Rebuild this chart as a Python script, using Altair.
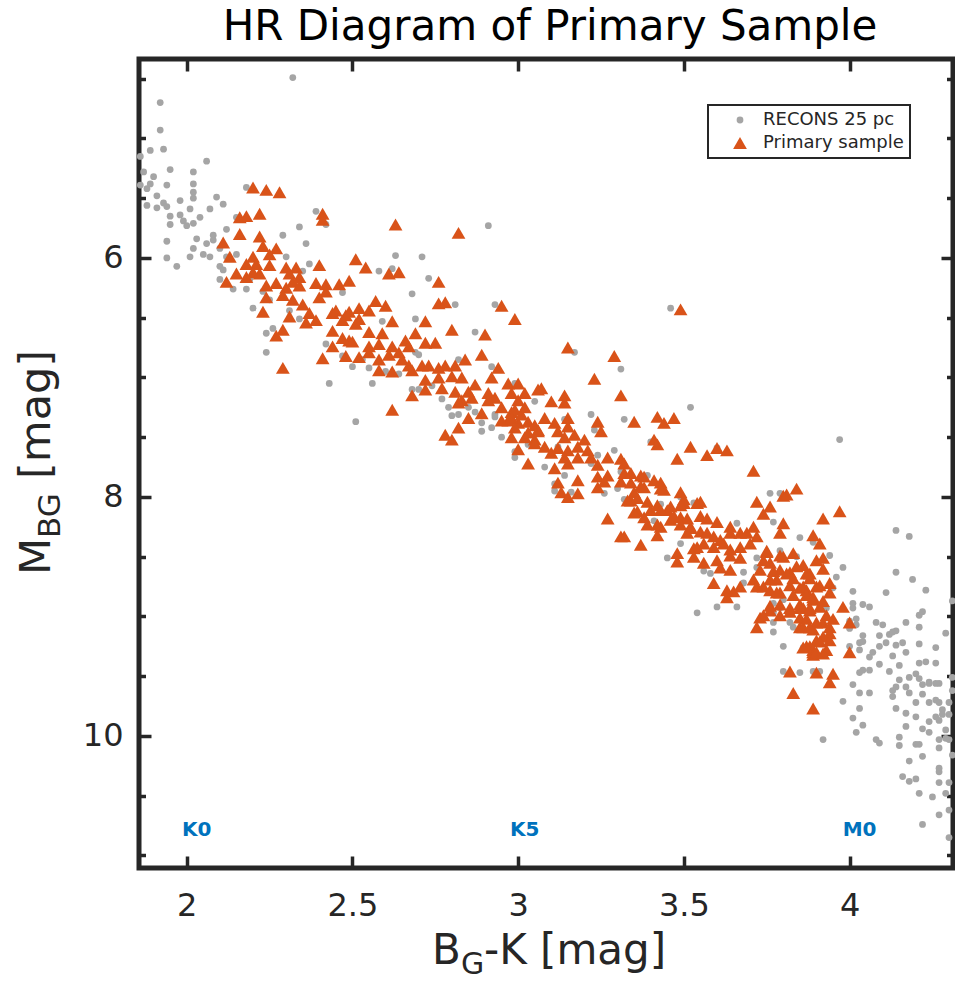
import altair as alt
import pandas as pd

# ---------------- data ----------------
series_names = ["RECONS 25 pc", "Primary sample"]
series_colors = ["#A5A5A5", "#D95319"]
series_shapes = ["circle", "triangle-up"]

recons_points = [
    (2.32, 4.49), (1.92, 4.70), (1.92, 4.93), (1.86, 5.15), (1.89, 5.10), (1.93, 5.09), (2.06, 5.19),
    (1.87, 5.28), (1.90, 5.32), (1.95, 5.26), (2.02, 5.28), (1.89, 5.38), (1.88, 5.42), (1.94, 5.39),
    (2.02, 5.38), (1.86, 5.39), (2.02, 5.45), (2.02, 5.50), (1.91, 5.48), (1.98, 5.52), (1.88, 5.56),
    (1.93, 5.54), (1.91, 5.58), (1.94, 5.57), (2.01, 5.59), (2.07, 5.59), (2.09, 5.49), (2.11, 5.55),
    (1.95, 5.65), (1.98, 5.64), (1.99, 5.69), (2.00, 5.73), (2.02, 5.71), (2.04, 5.66), (1.95, 5.72),
    (2.12, 5.76), (1.94, 5.86), (2.03, 5.84), (2.02, 5.92), (2.06, 5.88), (2.08, 5.81), (2.08, 5.85),
    (2.10, 5.92), (1.94, 6.00), (2.01, 5.99), (2.05, 5.97), (2.07, 5.99), (1.97, 6.07), (2.12, 5.99),
    (2.15, 5.97), (2.10, 6.07), (2.11, 6.10), (2.10, 6.18), (2.14, 6.26), (2.15, 5.66), (2.18, 5.41),
    (2.34, 5.74), (2.36, 5.88), (2.29, 5.81), (2.39, 5.61), (2.42, 5.72), (2.37, 6.05), (2.35, 6.11),
    (2.47, 6.29), (2.30, 5.99), (2.20, 6.42), (2.24, 6.63), (2.26, 6.59), (2.24, 6.79), (2.42, 6.72),
    (2.43, 7.05), (2.50, 6.91), (2.47, 6.82), (2.19, 6.18), (2.23, 6.28), (2.25, 6.35), (2.31, 6.44),
    (2.34, 6.51), (2.18, 6.26),
    (2.63, 5.98), (2.71, 5.99), (2.91, 5.73), (2.58, 6.11), (2.62, 6.09), (2.73, 6.17), (2.68, 6.30),
    (2.81, 6.39), (2.93, 6.39), (2.69, 6.51), (2.59, 6.53), (2.87, 6.62), (2.55, 6.92), (2.53, 6.85),
    (2.60, 6.95), (2.64, 6.97), (2.69, 6.79), (2.70, 6.81), (2.56, 7.05), (2.51, 7.37), (2.68, 7.10),
    (2.70, 7.10), (2.79, 7.25), (2.80, 7.32), (2.82, 7.31), (2.85, 7.25), (2.87, 7.29), (2.89, 7.38),
    (2.89, 7.45), (2.92, 7.42), (2.95, 7.50), (2.93, 7.33), (2.92, 6.91), (3.05, 7.20), (2.99, 7.62),
    (2.82, 6.85), (2.74, 7.07), (2.77, 7.18),
    (3.46, 6.42), (3.17, 6.79), (3.31, 6.93), (3.52, 7.25), (2.99, 7.05), (3.22, 7.31), (3.32, 7.35),
    (3.23, 7.44), (3.40, 7.54), (2.93, 7.31), (3.03, 7.56), (2.99, 7.67), (3.08, 7.75), (3.14, 7.82),
    (3.12, 7.58), (3.14, 7.35), (3.22, 7.72), (3.24, 7.65), (3.29, 7.61), (3.31, 7.79), (3.39, 7.82),
    (3.11, 7.89), (3.11, 7.95), (3.16, 7.96), (3.26, 7.97), (3.30, 7.93), (3.32, 8.02), (3.43, 8.06),
    (3.49, 8.00), (3.53, 8.05), (3.41, 8.20), (3.43, 8.27), (3.49, 8.39), (3.45, 8.51),
    (3.60, 7.59), (3.76, 7.97), (3.79, 7.97), (3.77, 8.21), (3.66, 8.22), (3.85, 8.34), (3.89, 8.38),
    (3.56, 8.62), (3.58, 8.64), (3.68, 8.63), (3.72, 8.51), (3.54, 8.97), (3.60, 8.92), (3.66, 8.92),
    (3.77, 8.97), (3.77, 9.13), (3.80, 8.86), (3.80, 9.25), (3.86, 9.26), (3.77, 8.89), (3.72, 8.59),
    (3.68, 8.72), (3.83, 9.09), (3.79, 8.93), (3.97, 7.52),
    (3.94, 8.49), (3.98, 8.59), (4.14, 8.28), (4.18, 8.33), (4.14, 8.63), (4.19, 8.69), (4.23, 8.78),
    (4.11, 8.80), (4.01, 8.79), (4.31, 8.87), (4.01, 8.89), (4.04, 8.90), (4.06, 8.92), (4.02, 9.02),
    (4.02, 9.07), (4.00, 9.10), (4.08, 9.05), (4.10, 9.07), (4.14, 9.12), (4.17, 9.05), (4.21, 9.09),
    (4.21, 8.99), (4.22, 8.96), (4.29, 9.14), (4.04, 9.16), (4.09, 9.16), (4.12, 9.15), (4.13, 9.13),
    (4.11, 9.22), (4.14, 9.24), (4.16, 9.22), (4.21, 9.23), (4.26, 9.26), (4.00, 9.25), (4.03, 9.22),
    (4.04, 9.21), (4.09, 9.25), (4.13, 9.33), (4.17, 9.30), (4.07, 9.30), (4.06, 9.34), (4.09, 9.40),
    (4.15, 9.41), (4.21, 9.39), (4.23, 9.38), (4.26, 9.39), (4.04, 9.45), (4.03, 9.47), (4.06, 9.45),
    (4.12, 9.46), (4.15, 9.53), (4.18, 9.51), (4.20, 9.48), (4.21, 9.52), (4.24, 9.55), (4.22, 9.57),
    (4.27, 9.56), (4.31, 9.51), (4.14, 9.59), (4.13, 9.62), (4.17, 9.59), (4.01, 9.57), (4.03, 9.64),
    (4.06, 9.64), (4.13, 9.67), (4.18, 9.64), (4.22, 9.65), (4.20, 9.72), (4.24, 9.72), (4.26, 9.70),
    (4.28, 9.78), (4.30, 9.82), (4.31, 9.62), (3.98, 9.71), (4.03, 9.77), (4.14, 9.77), (4.17, 9.81),
    (4.20, 9.84), (4.26, 9.84), (4.27, 9.87), (4.01, 9.85), (4.04, 9.91), (4.17, 9.92), (3.77, 9.05),
    (3.82, 9.05), (3.85, 9.47), (3.89, 9.46), (3.91, 9.46), (3.80, 9.46), (3.93, 8.93), (3.95, 8.76),
    (3.96, 8.67), (3.79, 8.45), (3.84, 8.50), (4.01, 8.93), (4.00, 9.04), (4.03, 9.28),
    (3.92, 10.03), (4.08, 10.03), (4.09, 10.06), (4.15, 10.01), (4.15, 10.08), (4.20, 10.07),
    (4.21, 10.07), (4.22, 10.17), (4.18, 10.21), (4.27, 10.10), (4.29, 10.02), (4.31, 10.16),
    (4.27, 10.27), (4.27, 10.30), (4.16, 10.34), (4.18, 10.38), (4.20, 10.36), (4.27, 10.39),
    (4.30, 10.39), (4.21, 10.48), (4.25, 10.51), (4.29, 10.48), (4.27, 10.66), (4.30, 10.62),
    (4.22, 10.74), (4.30, 10.85), (4.02, 9.97), (4.22, 9.94), (4.24, 9.88), (4.28, 9.82), (4.30, 9.72),
    (4.27, 9.72), (4.24, 9.56), (4.26, 9.56), (4.24, 9.97), (4.29, 9.95), (4.30, 10.03), (4.27, 10.03),
]

primary_points = [
    (2.20, 5.41), (2.24, 5.43), (2.28, 5.45), (2.16, 5.66), (2.18, 5.65), (2.22, 5.63), (2.41, 5.63),
    (2.41, 5.68), (2.16, 5.80), (2.22, 5.82), (2.11, 5.87), (2.23, 5.90), (2.27, 5.92), (2.13, 5.99),
    (2.25, 5.97), (2.20, 5.99), (2.18, 6.05), (2.21, 6.05), (2.25, 6.06), (2.15, 6.13), (2.18, 6.16),
    (2.20, 6.12), (2.22, 6.13), (2.12, 6.20), (2.24, 6.23), (2.27, 6.21), (2.30, 6.08), (2.33, 6.08),
    (2.31, 6.13), (2.32, 6.20), (2.30, 6.25), (2.34, 6.16), (2.34, 6.23), (2.24, 6.33), (2.29, 6.31),
    (2.32, 6.35), (2.35, 6.39), (2.39, 6.21), (2.42, 6.22), (2.40, 6.06), (2.46, 6.22), (2.49, 6.19),
    (2.51, 6.01), (2.42, 6.28), (2.40, 6.33), (2.37, 6.46), (2.39, 6.52), (2.44, 6.46), (2.48, 6.48),
    (2.51, 6.55), (2.44, 6.61), (2.49, 6.69), (2.44, 6.74), (2.48, 6.82), (2.41, 6.84), (2.31, 6.49),
    (2.29, 6.60), (2.27, 6.65), (2.23, 6.45), (2.29, 6.92), (2.47, 6.52), (2.36, 6.54),
    (2.63, 5.72), (2.82, 5.79), (2.54, 6.08), (2.61, 6.13), (2.64, 6.12), (2.76, 6.20), (2.76, 6.38),
    (2.78, 6.37), (2.95, 6.40), (2.99, 6.51), (2.57, 6.36), (2.60, 6.40), (2.55, 6.44), (2.52, 6.42),
    (2.49, 6.45), (2.45, 6.44), (2.62, 6.53), (2.72, 6.53), (2.80, 6.60), (2.90, 6.64), (2.69, 6.63),
    (2.66, 6.69), (2.75, 6.71), (2.72, 6.71), (2.59, 6.63), (2.55, 6.62), (2.52, 6.51), (2.47, 6.67),
    (2.50, 6.70), (2.55, 6.74), (2.58, 6.72), (2.62, 6.74), (2.64, 6.79), (2.67, 6.74), (2.61, 6.81),
    (2.58, 6.85), (2.65, 6.85), (2.67, 6.90), (2.52, 6.83), (2.55, 6.79), (2.58, 6.94), (2.62, 6.95),
    (2.68, 6.94), (2.71, 6.90), (2.73, 6.90), (2.76, 6.92), (2.78, 6.90), (2.81, 6.90), (2.84, 6.85),
    (2.89, 6.81), (2.94, 6.92), (2.92, 7.00), (2.72, 7.02), (2.76, 7.00), (2.80, 6.99), (2.83, 7.00),
    (2.77, 7.09), (2.81, 7.12), (2.85, 7.12), (2.87, 7.06), (2.72, 7.10), (2.68, 7.15), (2.83, 7.19),
    (2.86, 7.17), (2.91, 7.13), (2.93, 7.17), (2.97, 7.05), (3.00, 7.05), (2.98, 7.13), (3.02, 7.13),
    (3.06, 7.10), (3.00, 7.19), (2.95, 7.25), (2.91, 7.19), (2.82, 7.21), (2.62, 7.27), (2.98, 7.29),
    (3.02, 7.25), (2.97, 7.36), (3.00, 7.38), (3.03, 7.37), (3.06, 7.44), (2.82, 7.42), (2.85, 7.34),
    (2.89, 7.30), (2.78, 7.48), (2.80, 7.52), (2.98, 7.50), (3.02, 7.50), (3.05, 7.52), (3.00, 7.60),
    (3.15, 6.75), (3.29, 6.82), (3.49, 6.43), (3.23, 7.01), (3.31, 7.15), (3.07, 7.09), (3.14, 7.15),
    (3.10, 7.20), (3.14, 7.21), (2.99, 7.27), (2.95, 7.36), (2.98, 7.34), (3.01, 7.31), (3.08, 7.34),
    (3.05, 7.40), (3.11, 7.38), (3.15, 7.34), (2.99, 7.42), (3.03, 7.46), (3.06, 7.45), (3.05, 7.55),
    (3.08, 7.58), (3.12, 7.45), (3.15, 7.41), (3.14, 7.50), (3.17, 7.48), (3.20, 7.52), (3.24, 7.37),
    (3.25, 7.45), (3.42, 7.33), (3.44, 7.38), (3.47, 7.34), (3.35, 7.37), (3.41, 7.52), (3.42, 7.56),
    (3.52, 7.58), (3.48, 7.68), (3.03, 7.72), (3.10, 7.63), (3.12, 7.59), (3.15, 7.61), (3.18, 7.58),
    (3.21, 7.61), (3.14, 7.67), (3.18, 7.67), (3.22, 7.67), (3.24, 7.73), (3.27, 7.67), (3.31, 7.68),
    (3.32, 7.72), (3.11, 7.76), (3.15, 7.72), (3.18, 7.86), (3.12, 7.88), (3.13, 7.96), (3.15, 8.00),
    (3.18, 7.97), (3.24, 7.83), (3.27, 7.82), (3.24, 7.92), (3.26, 7.87), (3.31, 7.87), (3.32, 7.80),
    (3.34, 7.88), (3.34, 7.80), (3.38, 7.83), (3.41, 7.86), (3.43, 7.88), (3.35, 7.96), (3.38, 7.92),
    (3.44, 7.94), (3.49, 7.96), (3.34, 8.03), (3.36, 8.01), (3.39, 8.04), (3.40, 8.11), (3.36, 8.12),
    (3.38, 8.17), (3.45, 8.11), (3.46, 8.19), (3.50, 8.05), (3.54, 8.05), (3.49, 8.17), (3.52, 8.25),
    (3.43, 8.25), (3.39, 8.23), (3.51, 8.30), (3.53, 8.43), (3.48, 8.47), (3.27, 8.18), (3.31, 8.33),
    (3.37, 8.40), (3.42, 8.32),
    (3.57, 7.65), (3.60, 7.59), (3.63, 7.61), (3.71, 7.78), (3.84, 7.93), (3.80, 7.99), (3.76, 8.08),
    (3.72, 8.04), (3.74, 8.14), (3.80, 8.22), (3.79, 8.30), (3.89, 8.32), (3.91, 8.39), (3.37, 7.82),
    (3.43, 7.93), (3.37, 7.91), (3.33, 8.03), (3.50, 8.02), (3.55, 8.04), (3.49, 8.07), (3.46, 8.08),
    (3.42, 8.07), (3.43, 8.11), (3.47, 8.16), (3.51, 8.18), (3.55, 8.16), (3.57, 8.18), (3.60, 8.21),
    (3.35, 8.13), (3.42, 8.23), (3.49, 8.23), (3.52, 8.26), (3.55, 8.29), (3.57, 8.30), (3.59, 8.33),
    (3.61, 8.36), (3.64, 8.25), (3.64, 8.30), (3.67, 8.30), (3.69, 8.30), (3.71, 8.25), (3.72, 8.33),
    (3.56, 8.39), (3.59, 8.42), (3.62, 8.39), (3.64, 8.44), (3.67, 8.42), (3.70, 8.39), (3.54, 8.42),
    (3.53, 8.50), (3.48, 8.54), (3.56, 8.55), (3.60, 8.53), (3.64, 8.49), (3.67, 8.51), (3.61, 8.59),
    (3.64, 8.61), (3.59, 8.72), (3.63, 8.78), (3.63, 8.84), (3.65, 8.79), (3.67, 8.75), (3.71, 8.69),
    (3.73, 8.61), (3.75, 8.46), (3.76, 8.55), (3.79, 8.61), (3.79, 8.49), (3.82, 8.63), (3.83, 8.47),
    (3.86, 8.57), (3.87, 8.64), (3.90, 8.53), (3.72, 8.75), (3.76, 8.78), (3.79, 8.80), (3.82, 8.74),
    (3.85, 8.76), (3.87, 8.78), (3.90, 8.75), (3.89, 8.86), (3.76, 8.95), (3.79, 8.90), (3.82, 8.96),
    (3.85, 8.93), (3.88, 8.95), (3.91, 8.92), (3.73, 9.01), (3.79, 8.99), (3.85, 9.01), (3.87, 9.02),
    (3.72, 9.09), (3.85, 9.09), (3.89, 9.11), (3.87, 9.25), (3.89, 9.30), (3.90, 9.20), (3.32, 8.33),
    (3.81, 7.98), (3.92, 8.18), (3.97, 8.12), (3.75, 8.45), (3.80, 8.50), (3.92, 8.51), (3.84, 8.58),
    (3.92, 8.60), (3.74, 8.53), (3.77, 8.62), (3.81, 8.64), (3.88, 8.64), (3.88, 8.68), (3.83, 8.68),
    (3.78, 8.69), (3.76, 8.69), (3.74, 8.75), (3.86, 8.75), (3.91, 8.74), (3.94, 8.72), (3.94, 8.80),
    (3.78, 8.80), (3.83, 8.82), (3.87, 8.82), (3.89, 8.84), (3.92, 8.87), (3.76, 8.91), (3.82, 8.93),
    (3.85, 8.90), (3.86, 8.93), (3.88, 8.93), (3.98, 8.92), (3.74, 8.99), (3.93, 8.99), (3.95, 9.02),
    (3.92, 9.05), (3.90, 9.05), (3.86, 9.09), (3.88, 9.09), (3.94, 9.09), (4.00, 9.05), (3.94, 9.14),
    (3.92, 9.17), (3.91, 9.21), (3.94, 9.20), (3.88, 9.25), (3.86, 9.26), (3.89, 9.28), (3.93, 9.28),
    (4.00, 9.30), (3.89, 9.32), (3.92, 9.31), (3.90, 9.30), (3.82, 9.46), (3.90, 9.47), (3.95, 9.48),
    (3.94, 9.55), (3.83, 9.64), (3.89, 9.77),
]

x_ticks = [2, 2.5, 3, 3.5, 4]
y_major = [6, 8, 10]
y_minor = [4.5, 5, 5.5, 6.5, 7, 7.5, 8.5, 9, 9.5, 10.5, 11]
x_domain = [1.856, 4.312]
y_domain = [4.335, 11.105]

spec_labels = ["K0", "K5", "M0"]
spec_x = [2.03, 3.02, 4.03]
spec_y = [10.79, 10.79, 10.79]

# ---------------- chart ----------------
FONT = "DejaVu Sans"
INK = "#262626"
W, H = 814, 809

rows = [(x, y, series_names[0]) for x, y in recons_points] + \
       [(x, y, series_names[1]) for x, y in primary_points]
df = pd.DataFrame(rows, columns=["bgk", "mbg", "series"])

xs = alt.Scale(domain=x_domain, nice=False, zero=False)
ys = alt.Scale(domain=y_domain, reverse=True, nice=False, zero=False)

leg = alt.Legend(
    title=None, orient="none", legendX=569, legendY=46,
    fillColor="white", strokeColor=INK, padding=6,
    labelFont=FONT, labelFontSize=18, labelColor=INK,
    rowPadding=5, labelOffset=14, symbolOffset=17, symbolStrokeWidth=0,
)

points = alt.Chart(df).mark_point(filled=True, opacity=1, strokeWidth=0).encode(
    x=alt.X("bgk:Q", scale=xs, axis=alt.Axis(
        orient="bottom", values=x_ticks, format="~g", ticks=False, tickSize=0,
        domain=False, grid=False, labelFont=FONT, labelFontSize=32, labelColor=INK,
        labelPadding=47, labelBaseline="alphabetic", labelFlush=False,
        labelOverlap=False, title=None)),
    y=alt.Y("mbg:Q", scale=ys, axis=alt.Axis(
        orient="left", values=y_major, format="d", ticks=False, tickSize=0,
        domain=False, grid=False, labelFont=FONT, labelFontSize=32, labelColor=INK,
        labelPadding=16, labelBaseline="middle", labelFlush=False,
        labelOverlap=False, title=None)),
    color=alt.Color("series:N", scale=alt.Scale(domain=series_names, range=series_colors), legend=leg),
    shape=alt.Shape("series:N", scale=alt.Scale(domain=series_names, range=series_shapes), legend=leg),
    size=alt.Size("series:N", scale=alt.Scale(domain=series_names, range=[46, 190]), legend=leg),
)


def tick_axis(orient, values, size, offset):
    return alt.Axis(orient=orient, offset=offset, values=values, labels=False,
                    domain=False, grid=False, ticks=True, tickSize=size,
                    tickWidth=3.5, tickColor=INK, title=None)


anchor_df = pd.DataFrame({"bgk": [x_ticks[0]], "mbg": [y_major[0]]})


def tick_layer(x_axis, y_axis):
    return alt.Chart(anchor_df).mark_point(opacity=0).encode(
        x=alt.X("bgk:Q", scale=xs, axis=x_axis),
        y=alt.Y("mbg:Q", scale=ys, axis=y_axis),
    )


ticks_a = tick_layer(tick_axis("top", x_ticks, 12, -H), tick_axis("right", y_major, 12, -W))
ticks_b = tick_layer(tick_axis("bottom", x_ticks, 12, -H), tick_axis("left", y_major, 12, -W))
ticks_c = tick_layer(None, tick_axis("right", y_minor, 6.5, -W))
ticks_d = tick_layer(None, tick_axis("left", y_minor, 6.5, -W))

spec = alt.Chart(pd.DataFrame({"bgk": spec_x, "mbg": spec_y, "label": spec_labels})).mark_text(
    font=FONT, fontSize=20, fontWeight="bold", color="#0072BD", align="center", baseline="middle"
).encode(
    x=alt.X("bgk:Q", scale=xs, axis=None),
    y=alt.Y("mbg:Q", scale=ys, axis=None),
    text="label:N",
)


def free_text(txt, x, y, size, angle=0, align="left", color=INK):
    kw = dict(font=FONT, fontSize=size, color=color, align=align, baseline="alphabetic")
    if angle:
        kw["angle"] = angle
    return alt.Chart(pd.DataFrame({"t": [txt]})).mark_text(**kw).encode(
        x=alt.value(x), y=alt.value(y), text="t:N")


title = free_text("HR Diagram of Primary Sample", 411, -19, 42, align="center", color="#000000")
xl1 = free_text("B", 293, 905, 42)
xl2 = free_text("G", 322, 915, 30)
xl3 = free_text("-K [mag]", 345, 905, 42)
yl1 = free_text("M", -89, 516, 43, angle=270)
yl2 = free_text("BG", -79, 479, 31, angle=270)
yl3 = free_text("[mag]", -89, 420, 43, angle=270)

chart = alt.layer(
    ticks_a, ticks_b, ticks_c, ticks_d, points, spec,
    title, xl1, xl2, xl3, yl1, yl2, yl3,
).resolve_scale(
    x="shared", y="shared"
).resolve_axis(
    x="independent", y="independent"
).properties(
    width=W, height=H,
    autosize=alt.AutoSizeParams(type="none"),
    padding={"left": 139, "top": 59, "right": 2, "bottom": 121},
).configure_view(
    stroke=INK, strokeWidth=5
).configure_legend(
    strokeWidth=2
)

chart.save("out.html", embed_options={"renderer": "svg", "actions": False})
